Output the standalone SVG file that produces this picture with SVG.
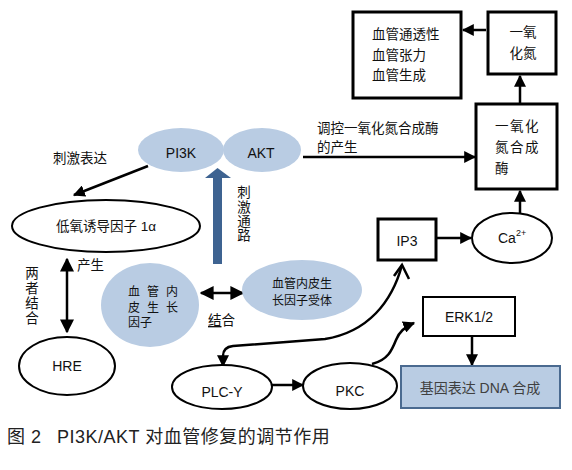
<svg xmlns="http://www.w3.org/2000/svg" width="572" height="470" viewBox="0 0 572 470">
<defs>
<style>
text{font-family:"Liberation Sans","Noto Sans CJK SC",sans-serif;font-size:13.5px;fill:#111}
.s14{font-size:14px}
.s12{font-size:12px}
.cap{font-size:18px;fill:#222;letter-spacing:0.5px}
.box{fill:#fff;stroke:#000;stroke-width:3}
.ell{fill:#fff;stroke:#000;stroke-width:2}
.blue{fill:#b9cce3;stroke:none}
.c{text-anchor:middle}
.ln{fill:none;stroke:#000;stroke-width:2.5}
</style>
<marker id="ah" viewBox="0 0 10 10" refX="9" refY="5" markerWidth="12" markerHeight="12" markerUnits="userSpaceOnUse" orient="auto-start-reverse">
<path d="M0,0 L10,5 L0,10 z" fill="#000"/>
</marker>
<marker id="ahb" viewBox="0 0 10 10" refX="9" refY="5" markerWidth="14" markerHeight="14" markerUnits="userSpaceOnUse" orient="auto-start-reverse">
<path d="M0,0 L10,5 L0,10 z" fill="#000"/>
</marker>
</defs>
<rect width="572" height="470" fill="#fff"/>

<g id="connectors">
<line class="ln" x1="486" y1="30" x2="463" y2="30" marker-end="url(#ah)"/>
<line class="ln" x1="520" y1="103" x2="520" y2="76" marker-end="url(#ah)"/>
<line class="ln" x1="303" y1="157" x2="475" y2="157" marker-end="url(#ah)"/>
<line class="ln" x1="148" y1="166" x2="74" y2="195" marker-end="url(#ah)"/>
<g id="blue-arrow" fill="#3e6391">
<rect x="213" y="176" width="9" height="88"/>
<polygon points="205,178 217.5,168 231,178"/>
</g>
<line class="ln" stroke-width="3" x1="67" y1="259" x2="67" y2="332" marker-start="url(#ahb)" marker-end="url(#ahb)"/>
<line class="ln" stroke-width="3" x1="201" y1="293" x2="243" y2="293" marker-start="url(#ahb)" marker-end="url(#ahb)"/>
<path class="ln" d="M402,265 C392,302 368,332 325,339 L233,346 Q223,347 223,356 L223,366" marker-end="url(#ah)"/>
<polyline class="ln" points="394,276 402,265 409,279"/>
<line class="ln" x1="437" y1="238" x2="471" y2="238" marker-end="url(#ah)"/>
<line class="ln" x1="520" y1="213" x2="520" y2="191" marker-end="url(#ah)"/>
<line class="ln" x1="272" y1="385" x2="303" y2="385" marker-end="url(#ah)"/>
<path class="ln" d="M372,364 C388,360 392,350 396,340 C399,332 404,327 414,323" marker-end="url(#ah)"/>
<line class="ln" x1="472" y1="337" x2="472" y2="365" marker-end="url(#ah)"/>
</g>

<g id="labels">
<text x="53" y="163">刺激表达</text>
<text x="317" y="133">调控一氧化氮合成酶</text>
<text x="317" y="152">的产生</text>
<text class="c" x="244"><tspan x="244" y="197">刺</tspan><tspan x="244" y="212">激</tspan><tspan x="244" y="226">通</tspan><tspan x="244" y="240">路</tspan></text>
<text class="c" x="32"><tspan x="32" y="278">两</tspan><tspan x="32" y="293">者</tspan><tspan x="32" y="308">结</tspan><tspan x="32" y="323">合</tspan></text>
<text x="77" y="270">产生</text>
<text x="208" y="325"><tspan text-decoration="underline">结</tspan>合</text>
</g>

<g id="vessel-effects">
<rect class="box" x="353" y="12" width="108" height="86"/>
<text x="372" y="39">血管通透性</text>
<text x="372" y="60">血管张力</text>
<text x="372" y="80">血管生成</text>
</g>
<g id="no">
<rect class="box" x="488" y="12" width="68" height="62"/>
<text class="c" x="523" y="37">一氧</text>
<text class="c" x="523" y="58">化氮</text>
</g>
<g id="nos">
<rect class="box" x="476" y="104" width="81" height="85"/>
<text x="495" y="131" letter-spacing="1.5">一氧化</text>
<text x="495" y="152" letter-spacing="1.5">氮合成</text>
<text x="495" y="173">酶</text>
</g>
<g id="pi3k">
<ellipse class="blue" cx="181" cy="150" rx="43" ry="22"/>
<text class="c s14" x="181" y="158">PI3K</text>
</g>
<g id="akt">
<ellipse class="blue" cx="262" cy="150" rx="39" ry="22"/>
<text class="c s14" x="261" y="158">AKT</text>
</g>
<g id="hif">
<ellipse class="ell" cx="106" cy="226" rx="94" ry="26"/>
<text class="c" x="106" y="231">低氧诱导因子 1α</text>
</g>
<g id="hre">
<ellipse class="ell" cx="67" cy="366" rx="48" ry="29"/>
<text class="c s14" x="67" y="371">HRE</text>
</g>
<g id="vegf">
<ellipse class="blue" cx="150" cy="305" rx="49" ry="42"/>
<text class="s12" x="128 147 166" y="296">血管内</text>
<text class="s12" x="128 147 166" y="312">皮生长</text>
<text class="s12" x="128" y="327">因子</text>
</g>
<g id="vegfr">
<ellipse class="blue" cx="302" cy="290" rx="60" ry="30"/>
<text class="c s12" x="302" y="288">血管内皮生</text>
<text class="c s12" x="302" y="305">长因子受体</text>
</g>
<g id="ip3">
<rect class="box" x="378" y="219" width="58" height="41"/>
<text class="c s14" x="407" y="246">IP3</text>
</g>
<g id="ca">
<ellipse class="ell" cx="512" cy="238" rx="40" ry="25"/>
<text class="s14" x="498" y="243">Ca<tspan style="font-size:9px" dy="-7">2+</tspan></text>
</g>
<g id="erk">
<rect x="423" y="297" width="92" height="39" fill="#fff" stroke="#000" stroke-width="2"/>
<text class="c s14" x="469" y="322">ERK1/2</text>
</g>
<g id="gene">
<rect x="401" y="366" width="159" height="42" fill="#b9cce3" stroke="#4a6a90" stroke-width="2"/>
<text class="c s14" x="480" y="393" style="fill:#404040">基因表达 DNA 合成</text>
</g>
<g id="plc">
<ellipse class="ell" cx="222" cy="387" rx="50" ry="22"/>
<text class="c s14" x="222" y="397">PLC-Y</text>
</g>
<g id="pkc">
<ellipse class="ell" cx="350" cy="386" rx="47" ry="23"/>
<text class="c s14" x="350" y="396">PKC</text>
</g>

<g id="caption">
<text class="cap" x="7" y="443">图 2</text>
<text class="cap" x="57" y="443">PI3K/AKT 对血管修复的调节作用</text>
</g>
</svg>
